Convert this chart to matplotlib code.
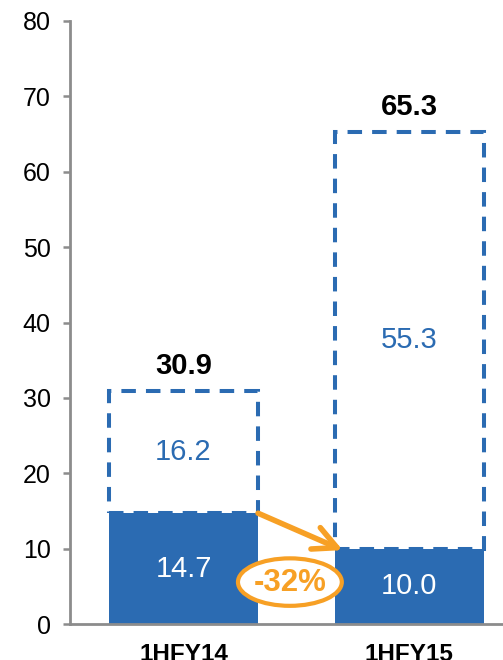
import matplotlib.pyplot as plt
from matplotlib.patches import Ellipse

plt.rcParams['font.family'] = ['Liberation Sans', 'DejaVu Sans']

categories = ['1HFY14', '1HFY15']
base = [14.7, 10.0]
increment = [16.2, 55.3]
total = [30.9, 65.3]
change = '-32%'

blue = '#2B6BB2'
orange = '#F7A025'
grey = '#8C8C8C'

fig = plt.figure(figsize=(5.03, 6.6), dpi=100)
ax = fig.add_axes([70 / 503, 1 - 624 / 660, 433 / 503, 603 / 660])

x = list(range(len(categories)))
w = 0.66

ax.bar(x, base, width=w, color=blue, edgecolor='none', zorder=2)
ax.bar(x, increment, width=w, bottom=base, facecolor='white', edgecolor=blue,
       linewidth=2.9, linestyle=(0, (3.6, 2.5)), zorder=3)

for i in x:
    ax.text(i, base[i] / 2, f'{base[i]:.1f}', ha='center', va='center',
            color='white', fontsize=21, zorder=4)
    ax.text(i, base[i] + increment[i] / 2, f'{increment[i]:.1f}', ha='center',
            va='center', color=blue, fontsize=21, zorder=4)
    ax.annotate(f'{total[i]:.1f}', (i, total[i]), xytext=(0, 8),
                textcoords='offset points', ha='center', va='bottom',
                fontsize=21, fontweight='bold', color='black')

# change arrow between the two base bars
ax.annotate('', xy=(1 - w / 2 + 0.035, base[1] - 0.2), xytext=(w / 2, base[0]),
            arrowprops=dict(arrowstyle='->', color=orange, lw=4,
                            mutation_scale=42, shrinkA=0, shrinkB=0),
            zorder=5)
ax.add_patch(Ellipse((0.471, 5.56), 0.46, 6.3, facecolor='white',
                     edgecolor=orange, linewidth=3, zorder=5))
ax.text(0.471, 5.4, change, ha='center', va='center', color=orange,
        fontsize=22.5, fontweight='bold', zorder=6)

ax.set_xlim(-0.503, 1.415)
ax.set_ylim(0, 80)
ax.set_yticks(range(0, 81, 10))
ax.set_xticks(x)
ax.set_xticklabels(categories, fontweight='bold', fontsize=17.5)
ax.tick_params(axis='y', length=5, width=1.8, color=grey, pad=9, labelsize=18)
ax.tick_params(axis='x', length=0, pad=14)

for side in ['top', 'right']:
    ax.spines[side].set_visible(False)
for side in ['left', 'bottom']:
    ax.spines[side].set_color(grey)
    ax.spines[side].set_linewidth(2)

fig.savefig('out.png', dpi=100)
